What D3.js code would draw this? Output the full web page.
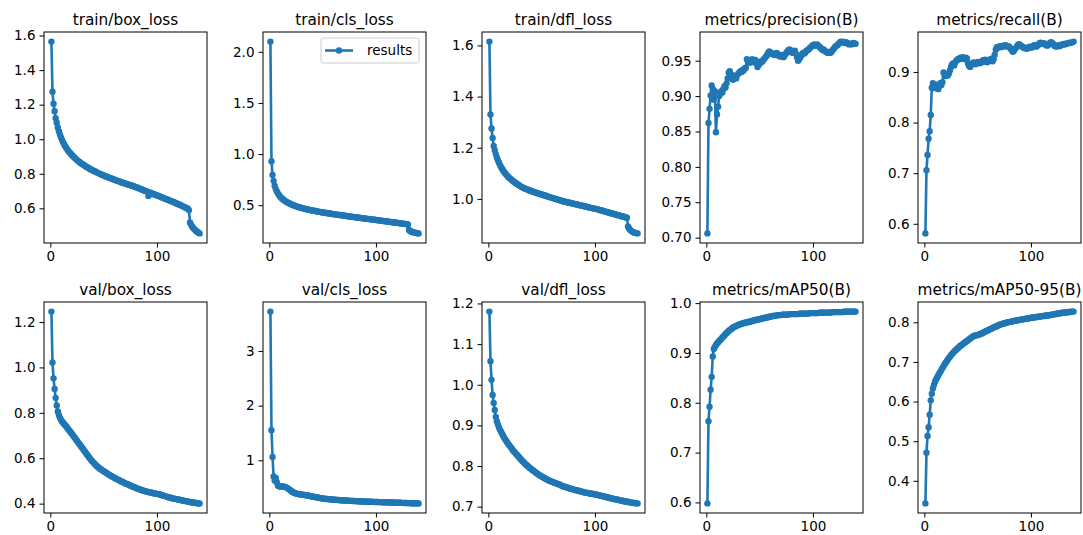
<!DOCTYPE html>
<html>
<head>
<meta charset="utf-8">
<script src="https://cdn.jsdelivr.net/npm/d3@7"></script>
<style>
  body { margin: 0; background: #fff; }
  svg text { font-family: "DejaVu Sans", sans-serif; fill: #000; }
</style>
</head>
<body>
<svg width="1083" height="535"></svg>
<script>
const titles = ['train/box_loss', 'train/cls_loss', 'train/dfl_loss', 'metrics/precision(B)', 'metrics/recall(B)',
                'val/box_loss', 'val/cls_loss', 'val/dfl_loss', 'metrics/mAP50(B)', 'metrics/mAP50-95(B)']

const trainBox = [1.565,1.275,1.205,1.162,1.122,1.095,1.068,1.046,1.027,1.010,
  0.995,0.982,0.970,0.959,0.949,0.940,0.932,0.924,0.917,0.910,
  0.903,0.897,0.891,0.885,0.880,0.875,0.870,0.865,0.860,0.856,
  0.852,0.848,0.844,0.840,0.836,0.832,0.829,0.825,0.822,0.819,
  0.816,0.813,0.810,0.807,0.804,0.801,0.798,0.796,0.793,0.790,
  0.788,0.785,0.783,0.780,0.778,0.775,0.773,0.771,0.768,0.766,
  0.764,0.761,0.759,0.757,0.755,0.752,0.750,0.748,0.746,0.744,
  0.742,0.740,0.738,0.736,0.734,0.732,0.730,0.728,0.726,0.724,
  0.721,0.719,0.716,0.714,0.711,0.709,0.706,0.704,0.701,0.699,
  0.697,0.672,0.692,0.690,0.687,0.685,0.682,0.680,0.678,0.675,
  0.673,0.670,0.668,0.665,0.663,0.660,0.658,0.655,0.653,0.650,
  0.648,0.645,0.643,0.640,0.638,0.635,0.632,0.630,0.627,0.624,
  0.622,0.619,0.616,0.613,0.610,0.607,0.604,0.601,0.598,0.590,
  0.518,0.505,0.495,0.487,0.480,0.474,0.468,0.463,0.459,0.455]

const trainCls = [2.100,0.930,0.795,0.738,0.690,0.660,0.636,0.616,0.600,0.586,
  0.574,0.564,0.555,0.547,0.540,0.533,0.527,0.521,0.516,0.511,
  0.506,0.502,0.498,0.494,0.490,0.486,0.483,0.480,0.477,0.474,
  0.471,0.468,0.465,0.463,0.460,0.458,0.455,0.453,0.451,0.449,
  0.447,0.445,0.443,0.441,0.439,0.437,0.435,0.433,0.431,0.429,
  0.428,0.426,0.424,0.423,0.421,0.419,0.418,0.416,0.414,0.413,
  0.411,0.410,0.408,0.407,0.405,0.404,0.402,0.401,0.399,0.398,
  0.396,0.395,0.393,0.392,0.390,0.389,0.388,0.386,0.385,0.383,
  0.382,0.380,0.379,0.378,0.376,0.375,0.373,0.372,0.371,0.369,
  0.368,0.366,0.365,0.364,0.362,0.361,0.359,0.358,0.357,0.355,
  0.354,0.352,0.351,0.350,0.348,0.347,0.345,0.344,0.343,0.341,
  0.340,0.338,0.337,0.336,0.334,0.333,0.331,0.330,0.329,0.327,
  0.326,0.324,0.323,0.322,0.320,0.319,0.317,0.316,0.314,0.312,
  0.258,0.248,0.242,0.238,0.235,0.232,0.230,0.228,0.226,0.224]

const trainDfl = [1.615,1.330,1.275,1.238,1.207,1.190,1.175,1.162,1.151,1.141,
  1.132,1.124,1.117,1.110,1.104,1.099,1.094,1.089,1.085,1.081,
  1.077,1.074,1.070,1.067,1.064,1.061,1.058,1.055,1.053,1.050,
  1.047,1.045,1.043,1.041,1.039,1.038,1.036,1.034,1.033,1.031,
  1.030,1.028,1.027,1.025,1.024,1.022,1.021,1.020,1.018,1.017,
  1.016,1.014,1.013,1.012,1.010,1.009,1.008,1.006,1.005,1.004,
  1.003,1.001,1.000,0.999,0.997,0.996,0.995,0.994,0.992,0.991,
  0.990,0.989,0.988,0.987,0.986,0.985,0.984,0.983,0.982,0.981,
  0.980,0.979,0.978,0.977,0.976,0.975,0.974,0.973,0.972,0.971,
  0.970,0.969,0.968,0.967,0.966,0.965,0.964,0.963,0.962,0.962,
  0.961,0.960,0.958,0.957,0.956,0.955,0.954,0.953,0.951,0.950,
  0.949,0.948,0.947,0.945,0.944,0.943,0.942,0.941,0.939,0.938,
  0.937,0.936,0.935,0.933,0.932,0.931,0.930,0.929,0.927,0.926,
  0.892,0.884,0.879,0.875,0.872,0.870,0.868,0.867,0.866,0.865]

const precision = [0.706,0.862,0.882,0.901,0.915,0.910,0.895,0.907,0.849,0.874,
  0.885,0.900,0.903,0.907,0.905,0.910,0.914,0.912,0.918,0.925,
  0.933,0.935,0.928,0.930,0.923,0.926,0.928,0.925,0.930,0.932,
  0.933,0.935,0.934,0.937,0.936,0.939,0.940,0.952,0.950,0.948,
  0.947,0.950,0.952,0.948,0.949,0.951,0.946,0.941,0.944,0.946,
  0.949,0.948,0.950,0.952,0.954,0.956,0.958,0.961,0.963,0.962,
  0.960,0.959,0.960,0.958,0.960,0.961,0.959,0.957,0.956,0.958,
  0.957,0.955,0.956,0.959,0.961,0.963,0.965,0.966,0.965,0.962,
  0.961,0.963,0.964,0.960,0.955,0.950,0.952,0.954,0.957,0.960,
  0.961,0.960,0.962,0.964,0.965,0.966,0.968,0.969,0.971,0.972,
  0.973,0.971,0.972,0.973,0.971,0.970,0.968,0.967,0.965,0.966,
  0.964,0.963,0.962,0.961,0.962,0.961,0.962,0.964,0.966,0.968,
  0.970,0.971,0.972,0.974,0.975,0.977,0.976,0.977,0.976,0.975,
  0.976,0.975,0.974,0.973,0.974,0.973,0.974,0.975,0.974,0.974]

const recall = [0.581,0.706,0.736,0.768,0.783,0.815,0.869,0.878,0.872,0.868,
  0.875,0.870,0.866,0.872,0.878,0.874,0.880,0.899,0.894,0.892,
  0.895,0.893,0.897,0.903,0.910,0.915,0.917,0.913,0.919,0.922,
  0.924,0.926,0.925,0.928,0.927,0.929,0.927,0.925,0.928,0.926,
  0.916,0.912,0.910,0.914,0.917,0.919,0.918,0.915,0.917,0.920,
  0.919,0.917,0.918,0.921,0.923,0.920,0.924,0.922,0.919,0.921,
  0.924,0.922,0.926,0.921,0.925,0.934,0.944,0.949,0.948,0.950,
  0.951,0.949,0.950,0.952,0.951,0.953,0.952,0.950,0.951,0.949,
  0.946,0.943,0.940,0.942,0.945,0.948,0.951,0.954,0.955,0.953,
  0.951,0.950,0.948,0.947,0.948,0.946,0.947,0.949,0.950,0.948,
  0.949,0.951,0.953,0.952,0.950,0.952,0.954,0.957,0.958,0.956,
  0.955,0.957,0.956,0.954,0.952,0.953,0.955,0.958,0.959,0.957,
  0.955,0.952,0.951,0.950,0.952,0.953,0.951,0.953,0.954,0.955,
  0.954,0.956,0.955,0.956,0.957,0.958,0.957,0.958,0.959,0.960]

const valBox = [1.246,1.022,0.952,0.905,0.866,0.832,0.806,0.791,0.779,0.769,
  0.762,0.756,0.750,0.745,0.740,0.733,0.727,0.721,0.715,0.709,
  0.703,0.696,0.690,0.683,0.677,0.670,0.664,0.658,0.651,0.645,
  0.639,0.632,0.626,0.619,0.613,0.606,0.600,0.594,0.588,0.583,
  0.578,0.573,0.568,0.564,0.560,0.556,0.553,0.549,0.546,0.543,
  0.540,0.537,0.534,0.531,0.528,0.525,0.522,0.520,0.517,0.514,
  0.512,0.509,0.507,0.504,0.502,0.499,0.497,0.495,0.492,0.490,
  0.488,0.486,0.484,0.482,0.480,0.478,0.476,0.474,0.472,0.470,
  0.468,0.466,0.464,0.462,0.461,0.459,0.458,0.456,0.455,0.454,
  0.452,0.451,0.450,0.449,0.448,0.447,0.446,0.445,0.444,0.443,
  0.442,0.441,0.440,0.438,0.437,0.435,0.434,0.432,0.431,0.429,
  0.428,0.427,0.426,0.424,0.423,0.422,0.421,0.420,0.419,0.418,
  0.417,0.416,0.415,0.414,0.413,0.412,0.411,0.410,0.409,0.408,
  0.407,0.406,0.405,0.405,0.404,0.403,0.403,0.402,0.401,0.401]

const valCls = [3.720,1.550,1.060,0.705,0.632,0.678,0.600,0.540,0.525,0.520,
  0.522,0.518,0.520,0.516,0.510,0.502,0.492,0.478,0.462,0.448,
  0.432,0.420,0.408,0.400,0.393,0.388,0.384,0.380,0.377,0.374,
  0.371,0.368,0.365,0.362,0.359,0.356,0.352,0.348,0.344,0.340,
  0.336,0.332,0.328,0.324,0.320,0.316,0.312,0.309,0.306,0.303,
  0.300,0.298,0.295,0.293,0.291,0.289,0.287,0.285,0.283,0.281,
  0.279,0.278,0.276,0.275,0.273,0.272,0.270,0.269,0.268,0.266,
  0.265,0.264,0.263,0.262,0.261,0.259,0.258,0.257,0.256,0.255,
  0.254,0.253,0.252,0.251,0.250,0.249,0.248,0.247,0.246,0.245,
  0.245,0.244,0.243,0.242,0.242,0.241,0.240,0.240,0.239,0.238,
  0.238,0.237,0.236,0.236,0.235,0.234,0.234,0.233,0.232,0.232,
  0.231,0.230,0.230,0.229,0.228,0.228,0.227,0.226,0.226,0.225,
  0.224,0.224,0.223,0.222,0.222,0.221,0.220,0.220,0.219,0.218,
  0.218,0.217,0.216,0.216,0.215,0.214,0.214,0.213,0.212,0.212]

const valDfl = [1.180,1.058,1.012,0.975,0.955,0.938,0.921,0.910,0.902,0.895,
  0.889,0.884,0.879,0.874,0.869,0.865,0.861,0.857,0.853,0.850,
  0.846,0.843,0.839,0.836,0.833,0.830,0.827,0.824,0.821,0.818,
  0.815,0.812,0.810,0.807,0.804,0.802,0.800,0.797,0.795,0.793,
  0.791,0.789,0.787,0.785,0.783,0.781,0.779,0.777,0.776,0.774,
  0.773,0.771,0.770,0.768,0.767,0.766,0.764,0.763,0.762,0.761,
  0.760,0.759,0.758,0.757,0.756,0.755,0.754,0.753,0.751,0.750,
  0.749,0.749,0.748,0.747,0.746,0.745,0.744,0.744,0.743,0.742,
  0.741,0.741,0.740,0.739,0.739,0.738,0.737,0.737,0.736,0.735,
  0.735,0.734,0.734,0.733,0.733,0.732,0.732,0.731,0.731,0.730,
  0.730,0.729,0.729,0.728,0.727,0.727,0.726,0.725,0.725,0.724,
  0.723,0.723,0.722,0.721,0.721,0.720,0.719,0.719,0.718,0.718,
  0.717,0.717,0.716,0.715,0.715,0.714,0.714,0.713,0.713,0.712,
  0.712,0.711,0.711,0.710,0.710,0.709,0.709,0.709,0.708,0.708]

const map50 = [0.598,0.763,0.792,0.826,0.852,0.893,0.908,0.912,0.916,0.919,
  0.921,0.924,0.926,0.928,0.931,0.933,0.935,0.938,0.940,0.942,
  0.944,0.946,0.947,0.949,0.951,0.952,0.953,0.954,0.955,0.956,
  0.957,0.958,0.958,0.959,0.960,0.960,0.961,0.961,0.962,0.962,
  0.963,0.963,0.964,0.965,0.965,0.966,0.966,0.967,0.967,0.968,
  0.968,0.969,0.969,0.970,0.970,0.971,0.971,0.972,0.972,0.973,
  0.973,0.974,0.974,0.975,0.975,0.975,0.976,0.976,0.976,0.976,
  0.977,0.977,0.977,0.977,0.977,0.977,0.977,0.978,0.978,0.978,
  0.978,0.978,0.978,0.978,0.978,0.978,0.979,0.979,0.979,0.979,
  0.979,0.979,0.979,0.979,0.979,0.979,0.980,0.980,0.980,0.980,
  0.980,0.980,0.980,0.980,0.980,0.981,0.981,0.981,0.981,0.981,
  0.981,0.981,0.981,0.981,0.981,0.981,0.981,0.982,0.982,0.982,
  0.982,0.982,0.982,0.982,0.982,0.982,0.982,0.982,0.983,0.983,
  0.983,0.983,0.983,0.983,0.983,0.983,0.983,0.983,0.983,0.983]

const map5095 = [0.343,0.471,0.513,0.535,0.567,0.603,0.620,0.633,0.642,0.650,
  0.656,0.661,0.666,0.671,0.675,0.680,0.685,0.689,0.694,0.698,
  0.702,0.706,0.710,0.713,0.717,0.720,0.723,0.726,0.729,0.731,
  0.734,0.736,0.739,0.741,0.743,0.745,0.747,0.749,0.751,0.753,
  0.755,0.757,0.759,0.761,0.763,0.765,0.766,0.767,0.767,0.768,
  0.769,0.770,0.771,0.772,0.774,0.775,0.776,0.778,0.779,0.780,
  0.782,0.783,0.784,0.786,0.787,0.788,0.789,0.790,0.792,0.793,
  0.794,0.795,0.796,0.797,0.797,0.798,0.799,0.800,0.800,0.801,
  0.801,0.802,0.803,0.803,0.804,0.804,0.805,0.805,0.806,0.806,
  0.807,0.807,0.808,0.808,0.809,0.809,0.810,0.810,0.811,0.811,
  0.812,0.812,0.812,0.813,0.813,0.814,0.814,0.814,0.815,0.815,
  0.816,0.816,0.816,0.817,0.817,0.817,0.818,0.818,0.819,0.819,
  0.820,0.820,0.821,0.821,0.822,0.822,0.823,0.823,0.824,0.824,
  0.824,0.825,0.825,0.825,0.826,0.826,0.826,0.827,0.827,0.827]

// y tick labels per panel, same order as titles
const yTicks = [[0.6, 0.8, 1.0, 1.2, 1.4, 1.6], [0.5, 1.0, 1.5, 2.0], [1.0, 1.2, 1.4, 1.6],
                [0.70, 0.75, 0.80, 0.85, 0.90, 0.95], [0.6, 0.7, 0.8, 0.9],
                [0.4, 0.6, 0.8, 1.0, 1.2], [1, 2, 3], [0.7, 0.8, 0.9, 1.0, 1.1, 1.2],
                [0.6, 0.7, 0.8, 0.9, 1.0], [0.4, 0.5, 0.6, 0.7, 0.8]]
const yFormats = ['.1f', '.1f', '.1f', '.2f', '.1f', '.1f', 'd', '.1f', '.1f', '.1f']
const xTicks = [0, 100]

const series = [trainBox, trainCls, trainDfl, precision, recall, valBox, valCls, valDfl, map50, map5095]
const epochs = d3.range(1, trainBox.length + 1)

const color = '#1f77b4'
const lefts = [44, 263, 482, 700, 918]
const tops = [32, 302]
const w = 163, h = 211

const svg = d3.select('svg')
svg.append('rect').attr('width', 1083).attr('height', 535).attr('fill', '#fff')

// matplotlib style 5% margins
const pad = ext => { const d = (ext[1] - ext[0]) * 0.05; return [ext[0] - d, ext[1] + d] }

series.forEach((values, i) => {
  const g = svg.append('g')
    .attr('transform', `translate(${lefts[i % 5]},${tops[Math.floor(i / 5)]})`)

  const x = d3.scaleLinear().domain(pad(d3.extent(epochs))).range([0, w])
  const y = d3.scaleLinear().domain(pad(d3.extent(values))).range([h, 0])

  const line = d3.line()
    .x((d, k) => x(epochs[k]))
    .y(d => y(d))

  g.append('path')
    .attr('fill', 'none')
    .attr('stroke', color)
    .attr('stroke-width', 2.6)
    .attr('stroke-linejoin', 'round')
    .attr('d', line(values))

  g.selectAll('circle').data(values).enter()
    .append('circle')
    .attr('cx', (d, k) => x(epochs[k]))
    .attr('cy', d => y(d))
    .attr('r', 3.2)
    .attr('fill', color)

  const xAxis = g.append('g')
    .attr('transform', `translate(0,${h})`)
    .call(d3.axisBottom(x).tickValues(xTicks).tickSize(4.5).tickPadding(4))
  const yAxis = g.append('g')
    .call(d3.axisLeft(y).tickValues(yTicks[i]).tickFormat(d3.format(yFormats[i])).tickSize(4.5).tickPadding(4))

  ;[xAxis, yAxis].forEach(a => {
    a.attr('font-family', null).attr('font-size', null)
    a.select('.domain').remove()
    a.selectAll('line').attr('stroke', '#000').attr('stroke-width', 1)
    a.selectAll('text').attr('font-size', 13.5).attr('fill', '#000')
  })

  g.append('rect')
    .attr('x', 0).attr('y', 0)
    .attr('width', w).attr('height', h)
    .attr('fill', 'none')
    .attr('stroke', '#000')
    .attr('stroke-width', 1)

  g.append('text')
    .attr('x', w / 2).attr('y', -7.5)
    .attr('text-anchor', 'middle')
    .attr('font-size', 15.3)
    .text(titles[i])

  if (i === 1) {
    const lg = g.append('g').attr('transform', 'translate(58,6)')
    lg.append('rect')
      .attr('width', 98).attr('height', 25).attr('rx', 2.5)
      .attr('fill', '#fff').attr('fill-opacity', 0.8)
      .attr('stroke', '#ccc')
    lg.append('line')
      .attr('x1', 4).attr('x2', 32).attr('y1', 12.5).attr('y2', 12.5)
      .attr('stroke', color).attr('stroke-width', 2.6)
    lg.append('circle').attr('cx', 18).attr('cy', 12.5).attr('r', 3.2).attr('fill', color)
    lg.append('text')
      .attr('x', 46).attr('y', 17)
      .attr('font-size', 13.5)
      .text('results')
  }
})
</script>
</body>
</html>
